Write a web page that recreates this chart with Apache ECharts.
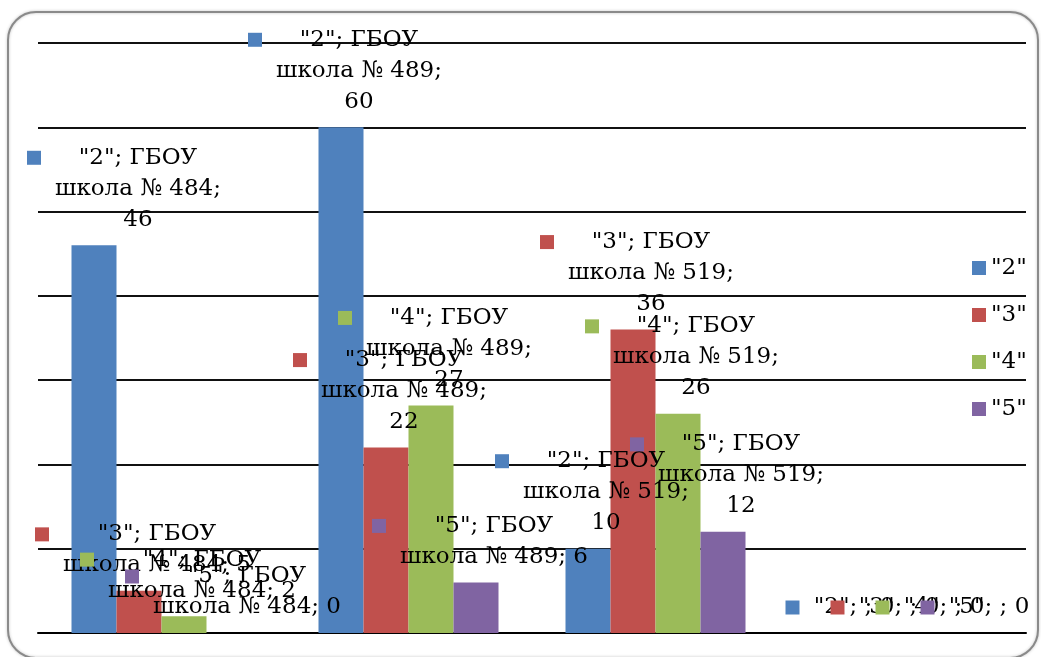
<!DOCTYPE html>
<html>
<head>
<meta charset="utf-8">
<script src="https://cdn.jsdelivr.net/npm/echarts/dist/echarts.min.js"></script>
<style>
html,body{margin:0;padding:0;background:#fff;}
#c{width:1041px;height:657px;}
</style>
</head>
<body>
<div id="c"></div>
<script>
// ---- data ----
const categories = ['ГБОУ школа № 484', 'ГБОУ школа № 489', 'ГБОУ школа № 519', ''];
const seriesNames = ['"2"', '"3"', '"4"', '"5"'];
const grade2 = [46, 60, 10, 0];
const grade3 = [5, 22, 36, 0];
const grade4 = [2, 27, 26, 0];
const grade5 = [0, 6, 12, 0];

// ---- style ----
const colors = ['#4F81BD', '#C0504D', '#9BBB59', '#8064A2'];
const FONT_FAMILY = 'DejaVu Serif';
const FONT_SIZE = 23;
const LH = 31;
// horizontal shift of each label (Excel pushed the first one inside the chart area)
const labelDx = [
  [30, 4, 4, 5],
  [4, 4, 4, 5],
  [4, 4, 4, 5],
  [4, 4, 4, 5]
];
const labelDy = -10;

const ctx = document.createElement('canvas').getContext('2d');
ctx.font = FONT_SIZE + 'px "' + FONT_FAMILY + '"';

function labelLines(sName, cat, v) {
  if (!cat) return [sName + '; ; ' + v];
  const words = cat.split(' ');
  const l1 = sName + '; ' + words[0];
  const rest = words.slice(1).join(' ') + ';';
  const joined = rest + ' ' + v;
  if (joined.length <= 14) return [l1, joined];
  return [l1, rest, String(v)];
}

function makeData(values, si) {
  return values.map(function (v, ci) {
    const lines = labelLines(seriesNames[si], categories[ci], v);
    const W = Math.ceil(Math.max.apply(null, lines.map(function (l) { return ctx.measureText(l).width; })));
    const txt = lines.map(function (l, i) {
      return (i === 0 ? '{m|}{g|}' : '{s|}') + '{t|' + l + '}';
    }).join('\n');
    return {
      value: v,
      label: {
        formatter: txt,
        rich: {
          m: { width: 14, height: 14, backgroundColor: colors[si], lineHeight: LH, verticalAlign: 'middle' },
          g: { width: 14, lineHeight: LH },
          s: { width: 28, lineHeight: LH },
          t: { width: W, align: 'center', fontSize: FONT_SIZE, fontFamily: FONT_FAMILY, color: '#000', lineHeight: LH }
        }
      }
    };
  });
}

const allValues = [grade2, grade3, grade4, grade5];

const chart = echarts.init(document.getElementById('c'), null, { renderer: 'canvas' });
chart.setOption({
  animation: false,
  backgroundColor: '#fff',
  grid: { left: 38, right: 15, top: 43, bottom: 24, containLabel: false },
  legend: {
    orient: 'vertical',
    left: 972,
    top: 256,
    padding: 0,
    itemWidth: 14,
    itemHeight: 14,
    itemGap: 23,
    icon: 'rect',
    data: seriesNames,
    textStyle: { fontFamily: FONT_FAMILY, fontSize: FONT_SIZE, color: '#000', lineHeight: 24 }
  },
  xAxis: {
    type: 'category',
    data: categories,
    axisLine: { show: true, lineStyle: { color: '#000', width: 2 } },
    axisTick: { show: false },
    axisLabel: { show: false },
    splitLine: { show: false }
  },
  yAxis: {
    type: 'value',
    min: 0,
    max: 70,
    interval: 10,
    axisLine: { show: false },
    axisTick: { show: false },
    axisLabel: { show: false },
    splitLine: { show: true, lineStyle: { color: '#111', width: 2 } }
  },
  series: allValues.map(function (vals, si) {
    return {
      name: seriesNames[si],
      type: 'bar',
      barWidth: 45,
      barGap: '0%',
      itemStyle: { color: colors[si] },
      label: {
        show: true,
        position: 'top',
        distance: 0,
        color: '#000',
        fontFamily: FONT_FAMILY,
        fontSize: FONT_SIZE
      },
      labelLayout: function (params) {
        return { dx: labelDx[si][params.dataIndex], dy: labelDy, hideOverlap: false };
      },
      data: makeData(vals, si)
    };
  }),
  graphic: [{
    type: 'rect',
    z: 100,
    silent: true,
    shape: { x: 8, y: 12, width: 1030, height: 646, r: 28 },
    style: { fill: 'none', stroke: '#8a8a8a', lineWidth: 2, shadowBlur: 3, shadowColor: 'rgba(0,0,0,0.25)' }
  }]
});
</script>
</body>
</html>
